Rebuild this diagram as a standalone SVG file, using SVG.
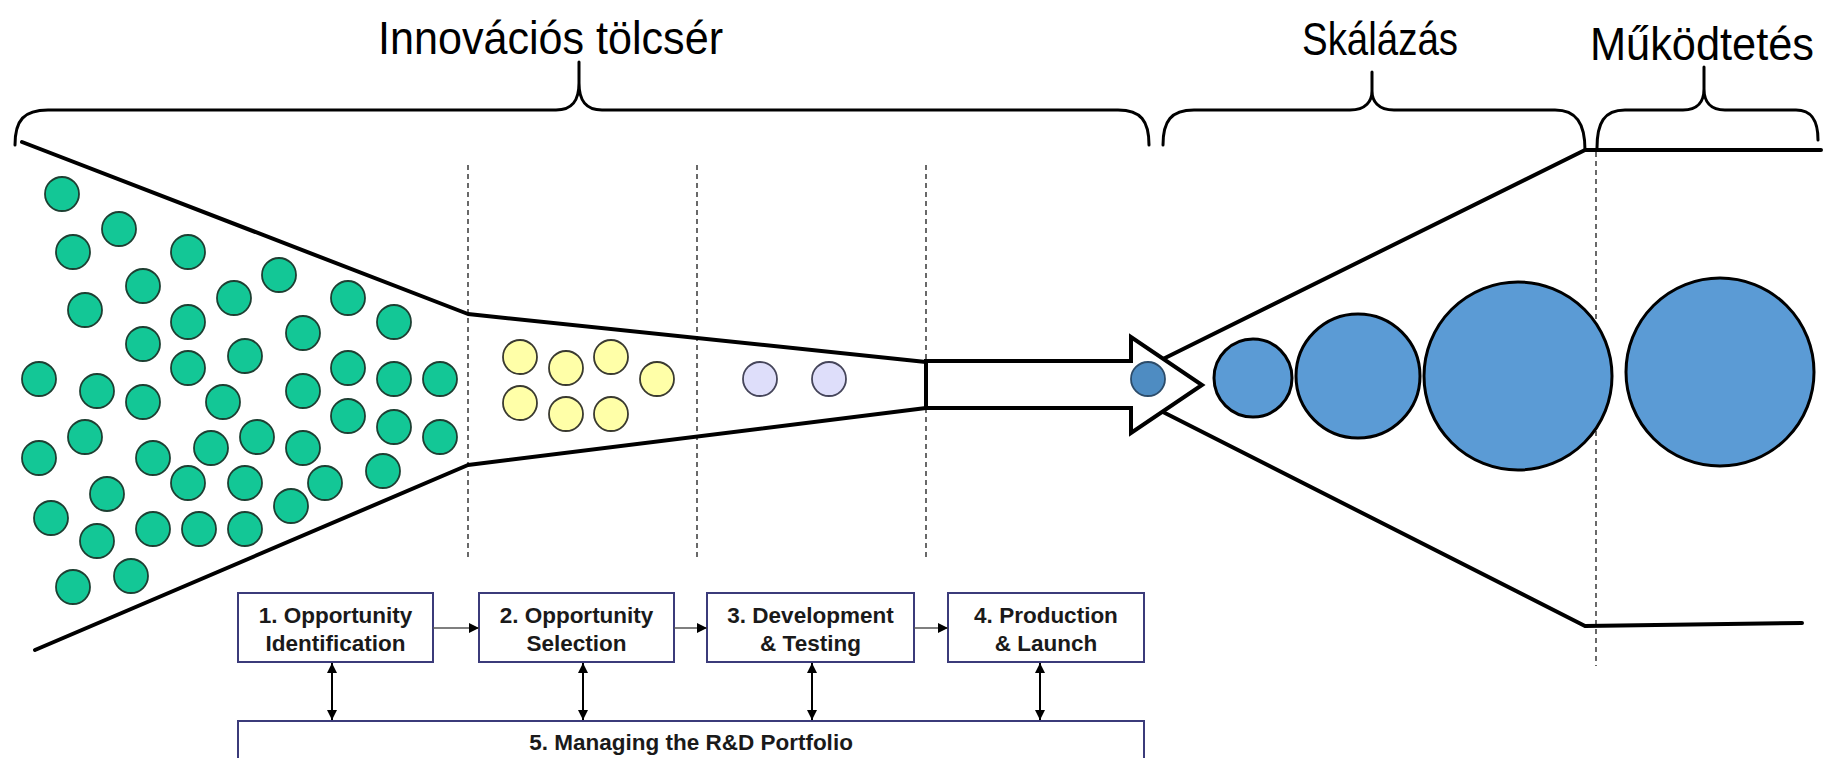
<svg xmlns="http://www.w3.org/2000/svg" width="1825" height="758" viewBox="0 0 1825 758">
  <style>
    .title { font-family: "Liberation Sans Narrow", "Liberation Sans", Arial, sans-serif; font-size: 46px; fill: #000; }
    .brace { fill: none; stroke: #000; stroke-width: 3; stroke-linecap: round; stroke-linejoin: round; }
    .outline { fill: none; stroke: #000; stroke-width: 4; stroke-linejoin: round; stroke-linecap: round; }
    .divider { stroke: #444; stroke-width: 1.6; stroke-dasharray: 5 4; }
    .idea { fill: #13C796; stroke: #1E3F32; stroke-width: 1.8; }
    .chosen { fill: #FFFFA8; stroke: #3A3A30; stroke-width: 1.8; }
    .tested { fill: #DEDEFA; stroke: #45455A; stroke-width: 1.8; }
    .seed { fill: #4E8CC2; stroke: #2C4C6A; stroke-width: 1.8; }
    .scale { fill: #5B9BD5; stroke: #000; stroke-width: 3; }
    .box { fill: #fff; stroke: #3B3B7A; stroke-width: 2; }
    .label { font-family: "Liberation Sans", Arial, sans-serif; font-weight: bold; font-size: 22.5px; fill: #1A1A1A; text-anchor: middle; }
    .flow { stroke: #555; stroke-width: 1.6; fill: none; }
    .link { stroke: #000; stroke-width: 2; fill: none; }
  </style>
  <defs>
    <marker id="head" viewBox="0 0 10 10" refX="10" refY="5" markerWidth="11" markerHeight="10" markerUnits="userSpaceOnUse" orient="auto-start-reverse">
      <path d="M0,0 L10,5 L0,10 z" fill="#000"/>
    </marker>
  </defs>

  <rect width="1825" height="758" fill="#fff"/>

  <!-- stage titles -->
  <text class="title" x="378" y="54" textLength="345" lengthAdjust="spacingAndGlyphs">Innovációs tölcsér</text>
  <text class="title" x="1302" y="55" textLength="156" lengthAdjust="spacingAndGlyphs">Skálázás</text>
  <text class="title" x="1590" y="60" font-size="42" textLength="224" lengthAdjust="spacingAndGlyphs">Működtetés</text>

  <!-- curly braces under the titles -->
  <path class="brace" d="M15,145 C15,120 24,110 48,110 L556,110 C572,110 579,101 579,83 L579,62 L579,83 C579,101 586,110 602,110 L1118,110 C1141,110 1149,121 1149,145"/>
  <path class="brace" d="M1163,145 C1163,121 1171,110 1194,110 L1350,110 C1366,110 1372,101 1372,91 L1372,72 L1372,91 C1372,101 1378,110 1394,110 L1555,110 C1576,110 1585,123 1585,150"/>
  <path class="brace" d="M1597,148 C1597,123 1604,110 1625,110 L1683,110 C1698,110 1704,101 1704,89 L1704,67 L1704,89 C1704,101 1710,110 1725,110 L1796,110 C1812,110 1818,121 1818,140"/>

  <!-- stage dividers -->
  <line class="divider" x1="468" y1="165" x2="468" y2="557"/>
  <line class="divider" x1="697" y1="165" x2="697" y2="557"/>
  <line class="divider" x1="926" y1="165" x2="926" y2="557"/>
  <line class="divider" x1="1596" y1="152" x2="1596" y2="666"/>

  <!-- funnel walls -->
  <polyline class="outline" points="22,142 468,314 926,362"/>
  <polyline class="outline" points="35,650 468,465 926,408"/>

  <!-- widening walls of the scaling stage -->
  <polyline class="outline" points="1163,359 1585,150 1821,150" stroke-width="4.2"/>
  <polyline class="outline" points="1163,412 1585,626 1802,623" stroke-width="3.6"/>

  <!-- hand-over arrow -->
  <g id="handover-arrow">
    <polygon points="926,361 1131,361 1131,337 1202,385 1131,433 1131,408 926,408" fill="#fff" stroke="#000" stroke-width="4" stroke-linejoin="miter"/>
  </g>

  <!-- ideas entering the funnel -->
  <g id="ideas">
    <circle class="idea" cx="62" cy="194" r="17"/>
    <circle class="idea" cx="119" cy="229" r="17"/>
    <circle class="idea" cx="73" cy="252" r="17"/>
    <circle class="idea" cx="188" cy="252" r="17"/>
    <circle class="idea" cx="143" cy="286" r="17"/>
    <circle class="idea" cx="279" cy="275" r="17"/>
    <circle class="idea" cx="85" cy="310" r="17"/>
    <circle class="idea" cx="234" cy="298" r="17"/>
    <circle class="idea" cx="188" cy="322" r="17"/>
    <circle class="idea" cx="348" cy="298" r="17"/>
    <circle class="idea" cx="394" cy="322" r="17"/>
    <circle class="idea" cx="143" cy="344" r="17"/>
    <circle class="idea" cx="303" cy="333" r="17"/>
    <circle class="idea" cx="245" cy="356" r="17"/>
    <circle class="idea" cx="188" cy="368" r="17"/>
    <circle class="idea" cx="39" cy="379" r="17"/>
    <circle class="idea" cx="97" cy="391" r="17"/>
    <circle class="idea" cx="143" cy="402" r="17"/>
    <circle class="idea" cx="348" cy="368" r="17"/>
    <circle class="idea" cx="394" cy="379" r="17"/>
    <circle class="idea" cx="440" cy="379" r="17"/>
    <circle class="idea" cx="303" cy="391" r="17"/>
    <circle class="idea" cx="223" cy="402" r="17"/>
    <circle class="idea" cx="348" cy="416" r="17"/>
    <circle class="idea" cx="394" cy="427" r="17"/>
    <circle class="idea" cx="440" cy="437" r="17"/>
    <circle class="idea" cx="85" cy="437" r="17"/>
    <circle class="idea" cx="257" cy="437" r="17"/>
    <circle class="idea" cx="211" cy="448" r="17"/>
    <circle class="idea" cx="303" cy="448" r="17"/>
    <circle class="idea" cx="39" cy="458" r="17"/>
    <circle class="idea" cx="153" cy="458" r="17"/>
    <circle class="idea" cx="383" cy="471" r="17"/>
    <circle class="idea" cx="107" cy="494" r="17"/>
    <circle class="idea" cx="188" cy="483" r="17"/>
    <circle class="idea" cx="245" cy="483" r="17"/>
    <circle class="idea" cx="325" cy="483" r="17"/>
    <circle class="idea" cx="51" cy="518" r="17"/>
    <circle class="idea" cx="291" cy="506" r="17"/>
    <circle class="idea" cx="97" cy="541" r="17"/>
    <circle class="idea" cx="153" cy="529" r="17"/>
    <circle class="idea" cx="199" cy="529" r="17"/>
    <circle class="idea" cx="245" cy="529" r="17"/>
    <circle class="idea" cx="73" cy="587" r="17"/>
    <circle class="idea" cx="131" cy="576" r="17"/>
  </g>

  <!-- selected opportunities -->
  <g id="selected">
    <circle class="chosen" cx="520" cy="357" r="17"/>
    <circle class="chosen" cx="566" cy="368" r="17"/>
    <circle class="chosen" cx="611" cy="357" r="17"/>
    <circle class="chosen" cx="657" cy="379" r="17"/>
    <circle class="chosen" cx="520" cy="403" r="17"/>
    <circle class="chosen" cx="566" cy="414" r="17"/>
    <circle class="chosen" cx="611" cy="414" r="17"/>
  </g>

  <!-- projects in development -->
  <g id="developed">
    <circle class="tested" cx="760" cy="379" r="17"/>
    <circle class="tested" cx="829" cy="379" r="17"/>
  </g>

  <!-- launched venture -->
  <g id="launched">
    <circle class="seed" cx="1148" cy="379" r="17"/>
  </g>

  <!-- growth while scaling -->
  <g id="scaling">
    <circle class="scale" cx="1253" cy="378" r="39"/>
    <circle class="scale" cx="1358" cy="376" r="62"/>
    <circle class="scale" cx="1518" cy="376" r="94"/>
  </g>

  <!-- steady operation -->
  <g id="operation">
    <circle class="scale" cx="1720" cy="372" r="94"/>
  </g>

  <!-- R&D process boxes -->
  <g id="step1">
    <rect class="box" x="238" y="593" width="195" height="69"/>
    <text class="label" x="335.5" y="623">1. Opportunity</text>
    <text class="label" x="335.5" y="651">Identification</text>
  </g>
  <g id="step2">
    <rect class="box" x="479" y="593" width="195" height="69"/>
    <text class="label" x="576.5" y="623">2. Opportunity</text>
    <text class="label" x="576.5" y="651">Selection</text>
  </g>
  <g id="step3">
    <rect class="box" x="707" y="593" width="207" height="69"/>
    <text class="label" x="810.5" y="623">3. Development</text>
    <text class="label" x="810.5" y="651">&amp; Testing</text>
  </g>
  <g id="step4">
    <rect class="box" x="948" y="593" width="196" height="69"/>
    <text class="label" x="1046" y="623">4. Production</text>
    <text class="label" x="1046" y="651">&amp; Launch</text>
  </g>
  <g id="step5">
    <rect class="box" x="238" y="721" width="906" height="60"/>
    <text class="label" x="691" y="750">5. Managing the R&amp;D Portfolio</text>
  </g>

  <!-- process connectors -->
  <g id="connectors">
    <line class="flow" x1="433" y1="628" x2="479" y2="628" marker-end="url(#head)"/>
    <line class="flow" x1="674" y1="628" x2="707" y2="628" marker-end="url(#head)"/>
    <line class="flow" x1="914" y1="628" x2="948" y2="628" marker-end="url(#head)"/>
    <line class="link" x1="332" y1="663" x2="332" y2="720" marker-start="url(#head)" marker-end="url(#head)"/>
    <line class="link" x1="583" y1="663" x2="583" y2="720" marker-start="url(#head)" marker-end="url(#head)"/>
    <line class="link" x1="812" y1="663" x2="812" y2="720" marker-start="url(#head)" marker-end="url(#head)"/>
    <line class="link" x1="1040" y1="663" x2="1040" y2="720" marker-start="url(#head)" marker-end="url(#head)"/>
  </g>
</svg>
